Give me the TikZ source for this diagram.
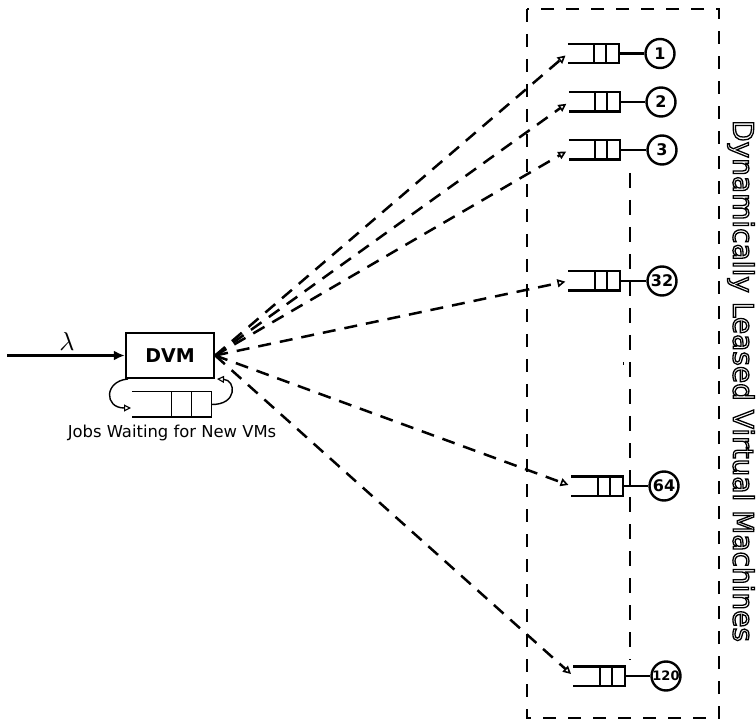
\documentclass[tikz,border=0pt]{standalone}
\usepackage{fontspec}
\setmainfont{DejaVu Sans}
\usetikzlibrary{arrows.meta}

% hollow (stroked only) glyphs through the PDF text rendering mode
\newcommand\hollowtext[1]{\special{pdf:literal direct 1 Tr 1.3 w}#1\special{pdf:literal direct 0 Tr}}

% a FIFO queue drawn on the frame of an empty node: open on the left, two slots on the right
\newcommand\drawqueue[2]{%
  \draw[#2] (#1.north west) -- (#1.north east) -- (#1.south east) -- (#1.south west);
  \draw[#2] ([xshift=-13pt]#1.north east) -- ([xshift=-13pt]#1.south east);
  \draw[#2] ([xshift=-25pt]#1.north east) -- ([xshift=-25pt]#1.south east);}

\begin{document}
\begin{tikzpicture}[x=1pt,y=-1pt,
  vmq/.style={minimum width=51pt,minimum height=19pt,inner sep=0pt},
  server/.style={circle,draw,line width=2.4pt,minimum size=29pt,inner sep=0pt,
    font=\bfseries\fontsize{16}{16}\selectfont},
  lease/.style={line width=2.5pt,dash pattern=on 13pt off 9pt,
    -{Triangle[open,length=8pt,width=8pt,line width=1.6pt]},shorten >=3pt},
  qline/.style={line width=2.4pt},
  thinline/.style={line width=1.4pt}]
\useasboundingbox (0,0) rectangle (756,722);

% pool of leased machines
\draw[line width=2.8pt,dash pattern=on 13pt off 12pt] (527,9) rectangle (719,718);
\node[rotate=-90,font=\fontsize{28}{28}\selectfont] (pool) at (741,381)
  {\hollowtext{Dynamically Leased Virtual Machines}};

% dispatcher
\node[draw,line width=2.4pt,minimum width=88pt,minimum height=45pt,inner sep=0pt,
  font=\bfseries\fontsize{19}{19}\selectfont] (dvm) at (170,355.5) {DVM};
\coordinate (src) at (7,355.5);
\draw[line width=2.4pt,-{Latex[length=11pt,width=10pt]}] (src) -- (dvm.west);
\node[scale=2.6,inner sep=0pt] (lam) at (67,341) {$\lambda$};

% waiting queue with its feedback loop
\node[minimum width=79pt,minimum height=25pt,inner sep=0pt] (wq) at (171.5,404.5) {};
\draw[thinline] (wq.north west) -- (wq.north east) -- (wq.south east) -- (wq.south west);
\draw[thinline] ([xshift=-20pt]wq.north east) -- ([xshift=-20pt]wq.south east);
\draw[thinline] ([xshift=-40pt]wq.north east) -- ([xshift=-40pt]wq.south east);
\coordinate (wqin) at (131,408);
\coordinate (loopout) at (128,379);
\coordinate (loopin) at (217,379);
\draw[thinline,-{Triangle[open,length=7pt,width=7pt,line width=1.1pt]}]
  (wq.east) .. controls (238,405) and (236,380) .. (loopin);
\draw[thinline,-{Triangle[open,length=7pt,width=7pt,line width=1.1pt]}]
  (loopout) .. controls (104,381) and (104,408) .. (wqin);
\node[font=\fontsize{16.4}{16.4}\selectfont] (wlabel) at (172,433) {Jobs Waiting for New VMs};

% virtual machines: queue + server
\foreach \n/\qx/\qy/\cx in {1/593.5/53.5/660, 2/594.5/102/661, 3/594.5/150/662,
    32/594/281/662, 64/597/486/664} {
  \node[vmq] (q\n) at (\qx,\qy) {};
  \drawqueue{q\n}{qline}
  \node[server] (c\n) at (\cx,\qy) {\n};
  \draw[qline] (q\n.east) -- (c\n);
}
\node[vmq] (q120) at (599,676) {};
\drawqueue{q120}{qline}
\node[server,font=\bfseries\fontsize{13}{13}\selectfont] (c120) at (666,676) {120};
\draw[qline] (q120.east) -- (c120);

% elided machines between 3 and 120
\coordinate (gaptop) at (630,173);
\coordinate (gapbot) at (630,660);
\draw[line width=2.4pt,dash pattern=on 15pt off 12pt] (gaptop) -- (gapbot);
\fill (622.5,362) rectangle (623.5,365);

% leasing requests from the dispatcher
\foreach \n in {1,2,3,32,64,120}
  \draw[lease] (dvm.east) -- (q\n.west);
\end{tikzpicture}
\end{document}
